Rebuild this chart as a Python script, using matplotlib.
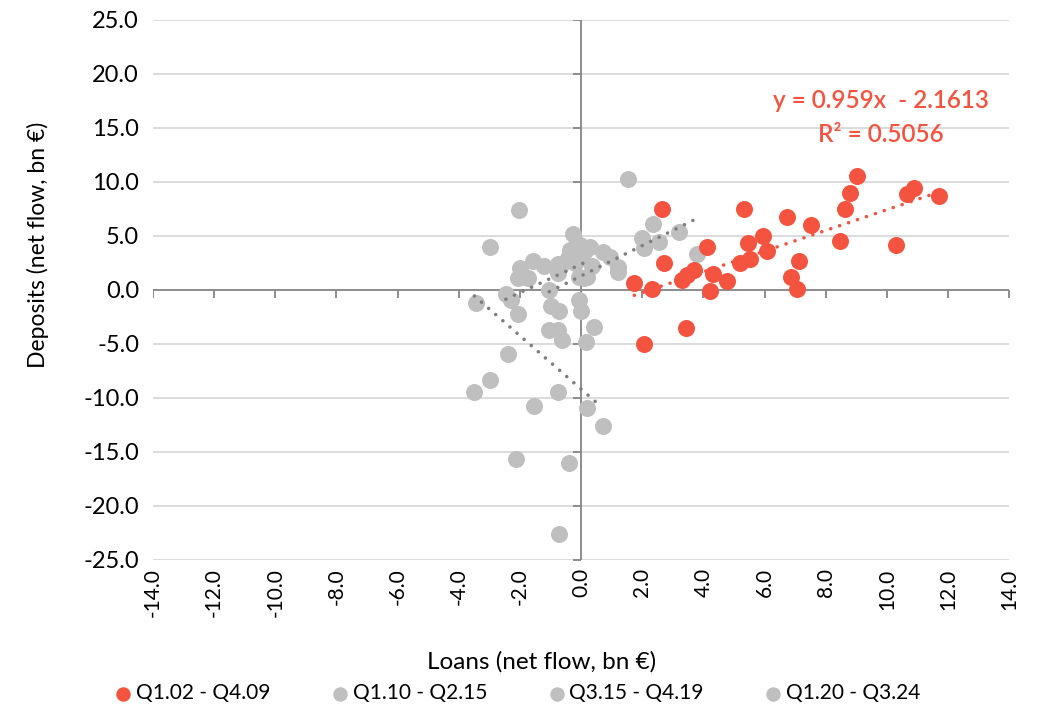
import numpy as np
import matplotlib.pyplot as plt

plt.rcParams['font.family'] = ['Lato', 'DejaVu Sans']

# Q1.02 - Q4.09
red_x = [11.71, 10.88, 10.66, 10.29, 9.01, 8.79, 8.63, 8.46, 7.51, 7.07, 7.12,
         6.85, 6.74, 6.09, 5.96, 5.52, 5.45, 5.33, 5.20, 4.78, 4.32, 4.22, 4.13,
         3.69, 3.45, 3.29, 3.43, 2.64, 2.72, 2.31, 1.74, 2.07]
red_y = [8.73, 9.42, 8.86, 4.14, 10.58, 8.95, 7.47, 4.54, 6.02, 0.09, 2.71,
         1.23, 6.73, 3.61, 5.03, 2.87, 4.35, 7.47, 2.47, 0.86, 1.48, -0.06, 3.95,
         1.85, 1.39, 0.93, -3.55, 7.47, 2.47, 0.12, 0.62, -5.03]

# Q1.10 - Q2.15
g1_x = [-3.44, -3.49, -2.97, -2.38, -2.12, -1.55, -0.77, -0.71, -0.38, 0.20, 0.71,
        -2.97, -2.02, -0.63, -1.05, -0.74, 0.15, 0.41, -2.07, -0.98, -0.71, 0.00]
g1_y = [-1.17, -9.41, -8.33, -5.90, -15.65, -10.71, -9.41, -22.62, -16.05, -10.90, -12.56,
        3.95, 7.41, -4.63, -3.70, -3.70, -4.78, -3.46, -2.25, -1.48, -1.94, -1.91]

# Q3.15 - Q4.19
g2_x = [-2.46, -2.29, -2.05, -1.99, -1.89, -1.75, -1.56, -1.23, -0.74, -0.74,
        -0.69, -0.42, -0.25, -0.28, -0.06, -0.06, 0.08, -0.35]
g2_y = [-0.40, -0.93, 1.08, 2.00, 1.23, 1.08, 2.69, 2.22, 2.38, 1.54,
        2.16, 2.94, 3.40, 5.19, 1.23, -0.93, 1.08, 3.70]

# Q1.20 - Q3.24
g3_x = [-1.04, -0.03, 0.29, 0.73, 0.35, 0.19, 1.20, 1.20, 1.53, 1.98,
        2.06, 2.36, 2.56, 3.20, 3.78, 0.95, 0.00, 0.10, -0.20]
g3_y = [0.00, 4.17, 3.95, 3.55, 2.22, 1.23, 2.16, 1.70, 10.28, 4.85,
        3.86, 6.08, 4.41, 5.40, 3.33, 3.09, 3.00, 3.50, 2.50]

labels = ['Q1.02 - Q4.09', 'Q1.10 - Q2.15', 'Q3.15 - Q4.19', 'Q1.20 - Q3.24']

# linear trends: slope, intercept, x-start, x-end
red_trend = (0.959, -2.1613, 1.74, 11.71)
grey_trends = [(-2.47, -9.18, -3.49, 0.60),
               (1.32, 2.39, -2.46, 0.12),
               (1.404, 1.30, -1.04, 3.72)]

xticks = np.arange(-14, 15, 2)
yticks = np.arange(-25, 26, 5)

red = '#F4533F'
grey = '#BFBFBF'
axis_grey = '#8C8C8C'

fig = plt.figure(figsize=(10.48, 7.11), dpi=100)
ax = fig.add_axes([0.146, 0.2124, 0.817, 0.7596])

ax.set_xlim(-14, 14)
ax.set_ylim(-25, 25)
for sp in ax.spines.values():
    sp.set_visible(False)

for yv in yticks:
    if yv != 0:
        ax.axhline(yv, color='#D9D9D9', lw=1.3, zorder=0)
ax.axhline(0, color=axis_grey, lw=1.4, zorder=1)
ax.axvline(0, color=axis_grey, lw=1.4, zorder=1)
# tick marks sit on the zero lines
ax.plot(xticks, np.zeros(len(xticks)), ls='none', marker=3, ms=6,
        mew=1.4, color=axis_grey, zorder=1)
ax.plot(np.zeros(len(yticks)), yticks, ls='none', marker=0, ms=6,
        mew=1.4, color=axis_grey, zorder=1)

ax.set_xticks(xticks)
ax.set_xticklabels([f'{v:.1f}' for v in xticks], rotation=90)
ax.set_yticks(yticks)
ax.set_yticklabels([f'{v:.1f}' for v in yticks])
ax.tick_params(length=0)
ax.tick_params(axis='x', labelsize=15, pad=6)
ax.tick_params(axis='y', labelsize=17, pad=10)

s = 150
h1 = ax.scatter(g1_x, g1_y, s=s, color=grey, lw=0, zorder=2)
h2 = ax.scatter(g2_x, g2_y, s=s, color=grey, lw=0, zorder=2)
h3 = ax.scatter(g3_x, g3_y, s=s, color=grey, lw=0, zorder=2)
h0 = ax.scatter(red_x, red_y, s=s, color=red, lw=0, zorder=3)

dot = (0, (0.01, 2.6))
for m, b, x0, x1 in grey_trends:
    xs = np.array([x0, x1])
    ax.plot(xs, m * xs + b, color='#7F7F7F', lw=2.6, ls=dot,
            dash_capstyle='round', zorder=4)
m, b, x0, x1 = red_trend
xs = np.array([x0, x1])
ax.plot(xs, m * xs + b, color=red, lw=2.6, ls=dot,
        dash_capstyle='round', zorder=4)

ax.text(9.8, 17.5, f'y = {m}x  - {-b}', color=red, fontsize=17.5,
        fontweight='semibold', ha='center', va='center')
ax.text(9.8, 14.35, 'R² = 0.5056', color=red, fontsize=17.5,
        fontweight='semibold', ha='center', va='center')

fig.text(0.036, 0.655, 'Deposits (net flow, bn €)', rotation=90,
         fontsize=16.5, ha='center', va='center')
fig.text(0.517, 0.069, 'Loans (net flow, bn €)', fontsize=17.5,
         ha='center', va='center')

fig.legend([h0, h1, h2, h3], labels, loc='center', ncol=4,
           bbox_to_anchor=(0.493, 0.025), frameon=False, fontsize=15,
           markerscale=0.85, handletextpad=0.1, columnspacing=2.85,
           handlelength=1.0)

fig.savefig('out.png', dpi=100)
